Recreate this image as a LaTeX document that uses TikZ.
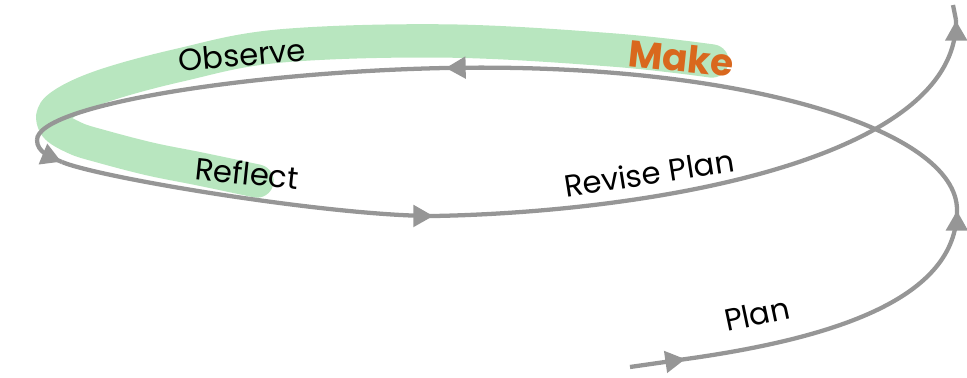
\documentclass[tikz,border=0pt]{standalone}
\usepackage{fontspec}
\setmainfont{Poppins}
\usetikzlibrary{arrows.meta, decorations.markings}
\definecolor{spiralgray}{RGB}{150,150,150}
\definecolor{markgreen}{RGB}{184,230,191}
\definecolor{makeorange}{RGB}{217,104,30}

\begin{document}
\begin{tikzpicture}[
    x=0.75pt, y=-0.75pt,
    spiral/.style={draw=spiralgray, line width=3.2pt},
    arrowed/.style={spiral, postaction={decorate}, decoration={markings,
      mark=at position -0.5pt with {\arrow[spiralgray]{Triangle[length=15pt, width=16pt]}}}},
    highlight/.style={draw=markgreen, line width=25pt, line cap=round, line join=round},
    stage/.style={font=\fontsize{23}{26}\selectfont, inner sep=0pt},
    current/.style={font=\fontsize{28}{32}\selectfont\bfseries, text=makeorange, inner sep=0pt}
]
  \useasboundingbox (0,0) rectangle (967,378);
  % --- green stroke over the turn we are in ------------------------------
  \draw[highlight] plot[smooth, tension=0.6] coordinates {
    (712,61) (613,50) (447,41) (280,46) (180,65) (100,87)
    (58,108) (55,125) (75,138) (100,146) (150,159) (200,169) (257,181)};
  % --- the spiral, an arrow at the end of each piece ---------------------
  \coordinate (start) at (630,367);
  \coordinate (inplan) at (686,359);
  \coordinate (right) at (957,210);
  \coordinate (top) at (445,68);
  \coordinate (left) at (37,140);
  \coordinate (turn) at (62,162);
  \coordinate (bottom) at (434,216);
  \coordinate (out) at (956,20);
  \coordinate (end) at (953,5);
  \draw[arrowed] (start) -- (inplan);
  \draw[arrowed] (inplan) .. controls (836,338) and (957,298) .. (right);
  \draw[arrowed] (right) .. controls (957,130) and (743,62) .. (top);
  \draw[spiral] (top) .. controls (250,72) and (37,105) .. (left);
  \draw[arrowed] (left) .. controls (37,152) and (50,157) .. (turn);
  \draw[arrowed] (turn) .. controls (100,178) and (330,216) .. (bottom);
  \draw[arrowed] (bottom) .. controls (650,212) and (958,160) .. (out);
  \draw[spiral] (out) -- (end);
  % --- stage names ------------------------------------------------------
  \node[stage, rotate=5] (observe) at (242,55) {Observe};
  \node[current, rotate=-6] (make) at (681,58) {Make};
  \node[stage, rotate=-6] (reflect) at (247,173) {Reflect};
  \node[stage, rotate=9] (revise) at (649,173) {Revise Plan};
  \node[stage, rotate=12] (plan) at (757,314) {Plan};
\end{tikzpicture}
\end{document}
